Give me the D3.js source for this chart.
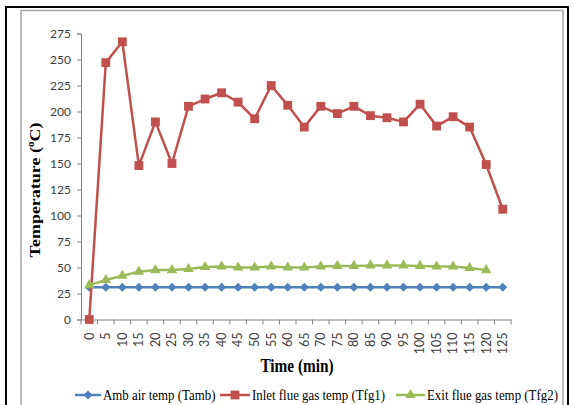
<!DOCTYPE html>
<html>
<head>
<meta charset="utf-8">
<script src="https://cdn.jsdelivr.net/npm/d3@7"></script>
<style>
  html, body { margin: 0; padding: 0; background: #fff; }
  svg { display: block; }
</style>
</head>
<body>
<svg id="chart" width="573" height="405"></svg>
<script>
// Time axis categories (minutes)
const times = [0,5,10,15,20,25,30,35,40,45,50,55,60,65,70,75,80,85,90,95,100,105,110,115,120,125];
// Ambient air temperature (°C)
const ambTemp = [31,31,31,31,31,31,31,31,31,31,31,31,31,31,31,31,31,31,31,31,31,31,31,31,31,31];
// Inlet flue gas temperature (°C)
const inletTemp = [0,247,267,148,190,150,205,212,218,209,193,225,206,185,205,198,205,196,194,190,207,186,195,185,149,106];
// Exit flue gas temperature (°C); no reading at 125 min
const exitTemp = [33,38,42,46,47.5,47.5,48.5,50.5,51,50,50,51,50,50,51,51.5,51.5,52,52,52,51.5,51,51,49.5,47.5,null];
const yTicks = [0,25,50,75,100,125,150,175,200,225,250,275];

const series = [
  { name: "Amb air temp (Tamb)", values: ambTemp, color: "#4F81BD", marker: "diamond" },
  { name: "Inlet flue gas temp (Tfg1)", values: inletTemp, color: "#C0504D", marker: "square" },
  { name: "Exit flue gas temp (Tfg2)", values: exitTemp, color: "#9BBB59", marker: "triangle" }
];

const svg = d3.select("#chart");

// outer frame and chart-area border
svg.append("rect").attr("x", 6).attr("y", 7).attr("width", 562).attr("height", 420)
  .attr("fill", "none").attr("stroke", "#000").attr("stroke-width", 2);
svg.append("rect").attr("x", 21).attr("y", 10.5).attr("width", 542).attr("height", 420)
  .attr("fill", "none").attr("stroke", "#a6a6a6").attr("stroke-width", 1.5);

const x = d3.scaleBand().domain(times).range([81, 511]);
const y = d3.scaleLinear().domain([0, 275]).range([319.5, 33.5]);
const cx = t => x(t) + x.bandwidth() / 2;

const axisColor = "#868686";
const labelFont = "Lato, 'Open Sans', sans-serif";

// y axis
const yAxis = svg.append("g").attr("transform", "translate(81,0)")
  .call(d3.axisLeft(y).tickValues(yTicks).tickSize(4).tickPadding(6));
yAxis.select(".domain").attr("stroke", axisColor);
yAxis.selectAll(".tick line").attr("stroke", axisColor);
yAxis.selectAll(".tick text").attr("fill", "#404040")
  .style("font-family", labelFont).style("font-size", "12px");

// x axis: labels centred on categories, ticks on category boundaries
const xAxis = svg.append("g").attr("transform", "translate(0,319.5)")
  .call(d3.axisBottom(x).tickSize(0).tickPadding(0));
xAxis.select(".domain").attr("stroke", axisColor);
xAxis.selectAll(".tick text")
  .attr("fill", "#404040")
  .style("font-family", labelFont).style("font-size", "12.5px")
  .attr("text-anchor", "end")
  .attr("dy", "0.35em")
  .attr("transform", "translate(0,13) rotate(-90)");
xAxis.selectAll(".boundary").data(times.map(t => x(t)).concat([x.range()[1]]))
  .enter().append("line").attr("class", "boundary")
  .attr("x1", d => d).attr("x2", d => d).attr("y1", 0).attr("y2", 5)
  .attr("stroke", axisColor);

// marker generator
function marker(type) {
  if (type === "square") return d3.symbol().type(d3.symbolSquare).size(78)();
  if (type === "triangle") return d3.symbol().type(d3.symbolTriangle).size(48)();
  return d3.symbol().type(d3.symbolSquare).size(40)();
}
function markerRotation(type) { return type === "diamond" ? 45 : 0; }

// series lines and markers
series.forEach(s => {
  const pts = times.map((t, i) => ({ t, v: s.values[i] })).filter(d => d.v !== null);
  const line = d3.line().x(d => cx(d.t)).y(d => y(d.v));
  svg.append("path").datum(pts).attr("d", line)
    .attr("fill", "none").attr("stroke", s.color).attr("stroke-width", 2.5)
    .attr("stroke-linejoin", "round");
  svg.append("g").selectAll("path").data(pts).enter().append("path")
    .attr("d", marker(s.marker))
    .attr("transform", d => `translate(${cx(d.t)},${y(d.v)}) rotate(${markerRotation(s.marker)})`)
    .attr("fill", s.color);
});

// axis titles (serif, slightly condensed horizontally)
const titleFont = "'Liberation Serif', 'Times New Roman', serif";
svg.append("text").attr("transform", "translate(297,372) scale(0.85,1)")
  .attr("text-anchor", "middle")
  .style("font-family", titleFont).style("font-weight", "bold").style("font-size", "18px")
  .attr("fill", "#000").text("Time (min)");

const yt = svg.append("text")
  .attr("transform", "translate(40,190) rotate(-90) scale(1,0.85)")
  .attr("text-anchor", "middle")
  .style("font-family", titleFont).style("font-weight", "bold").style("font-size", "18px")
  .attr("fill", "#000");
yt.append("tspan").text("Temperature (");
yt.append("tspan").attr("dy", "-7").style("font-size", "11px").text("o");
yt.append("tspan").attr("dy", "7").text("C)");

// legend
const legendY = 395;
const legendItems = [
  { s: series[0], x0: 75, x1: 101, tx: 103 },
  { s: series[1], x0: 220, x1: 250, tx: 252 },
  { s: series[2], x0: 396, x1: 425, tx: 427 }
];
legendItems.forEach(it => {
  const g = svg.append("g");
  g.append("line").attr("x1", it.x0).attr("x2", it.x1).attr("y1", legendY).attr("y2", legendY)
    .attr("stroke", it.s.color).attr("stroke-width", 2.5);
  g.append("path").attr("d", marker(it.s.marker))
    .attr("transform", `translate(${(it.x0 + it.x1) / 2},${legendY}) rotate(${markerRotation(it.s.marker)})`)
    .attr("fill", it.s.color);
  g.append("text").attr("transform", `translate(${it.tx},${legendY}) scale(0.86,1)`)
    .attr("dy", "0.35em")
    .style("font-family", titleFont).style("font-size", "15px").attr("fill", "#000")
    .text(it.s.name);
});
</script>
</body>
</html>
